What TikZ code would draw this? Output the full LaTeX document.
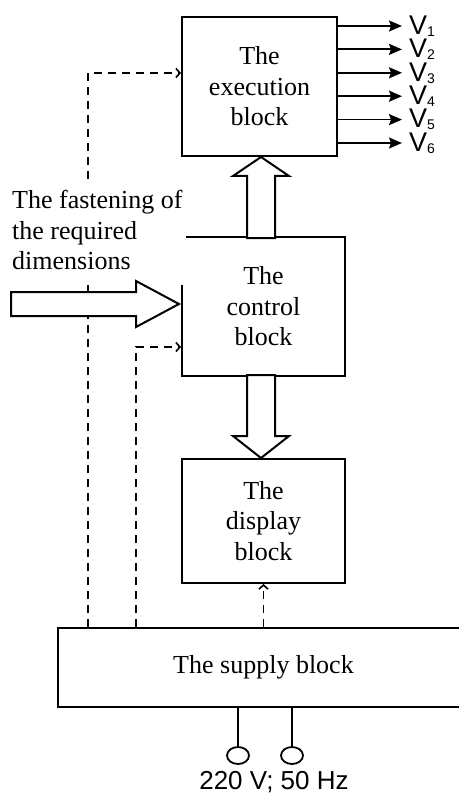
\documentclass[tikz,border=0pt]{standalone}
\usepackage{fontspec}
\setmainfont{Liberation Serif}
\setsansfont{Liberation Sans}
\usetikzlibrary{arrows.meta,shapes.geometric}

\newcommand{\outidx}[1]{\raisebox{-2pt}{\fontsize{14pt}{14pt}\selectfont #1}}

\begin{document}
\begin{tikzpicture}[
  x=1pt, y=1pt,
  block/.style={draw, line width=2pt, align=center, inner sep=0pt, font=\fontsize{26pt}{30.5pt}\selectfont},
  note/.style={fill=white, align=left, inner xsep=3pt, inner ysep=6pt, font=\fontsize{26pt}{30.5pt}\selectfont},
  hollow/.style={draw, fill=white, line width=2pt},
  feed/.style={dash pattern=on 8pt off 6pt, line width=1.6pt, -{Straight Barb[length=4pt,width=9pt]}},
  outarrow/.style={line width=1.8pt, -{Stealth[length=13pt,width=11pt,inset=2pt]}},
  vlabel/.style={font=\sffamily\fontsize{27pt}{30pt}\selectfont, inner sep=0pt, anchor=west},
  term/.style={draw, ellipse, line width=1.8pt, minimum width=22pt, minimum height=17pt, inner sep=0pt}
]
  \useasboundingbox (0,0) rectangle (458,-794);

  \node[block, minimum width=155pt, minimum height=139pt] (exec) at (259.5,-86.5) {The\\execution\\block};
  \node[block, minimum width=163pt, minimum height=139pt] (ctrl) at (263.5,-306.5) {The\\control\\block};
  \node[block, minimum width=163pt, minimum height=124pt] (disp) at (263.5,-521) {The\\display\\block};
  \node[block, minimum width=411pt, minimum height=79pt] (supply) at (263.5,-667.5) {The supply block};

  \coordinate (axis) at (261,0);
  \coordinate (d1) at (88,0);
  \coordinate (d2) at (136,0);

  % outputs
  \foreach \y [count=\i] in {26,49.4,72.8,96.2,119.6,143}{
    \node[vlabel] (v\i) at (409,-\y) {V\outidx{\i}};
    \draw[outarrow] (exec.east |- v\i.west) -- ([xshift=-7pt]v\i.west);
  }

  % power feeds
  \draw[feed] (supply.north -| d1) |- ([yshift=13.5pt]exec.west);
  \draw[feed] (supply.north -| d2) |- ([yshift=-40.5pt]ctrl.west);
  \draw[feed] (supply.north -| disp.south) -- (disp.south);

  \node[note, anchor=north west] (fasten) at (9,-184) {The fastening of\\the required\\dimensions\strut};

  % data paths
  \draw[hollow] ([shift={(-2pt,2.5pt)}]ctrl.west) -- ++(-43,23) -- ++(0,-11) -- ++(-125,0)
    -- ++(0,-24) -- ++(125,0) -- ++(0,-11) -- cycle;
  \draw[hollow] (exec.south -| axis) -- ++(28,-19) -- ++(-14,0) -- ++(0,-62)
    -- ++(-28,0) -- ++(0,62) -- ++(-14,0) -- cycle;
  \draw[hollow] (disp.north -| axis) -- ++(28,22) -- ++(-14,0) -- ++(0,61)
    -- ++(-28,0) -- ++(0,-61) -- ++(-14,0) -- cycle;

  % mains input
  \node[term] (t1) at (238,-755.5) {};
  \node[term] (t2) at (292,-755.5) {};
  \draw[line width=1.8pt] (supply.south -| t1) -- (t1.north);
  \draw[line width=1.8pt] (supply.south -| t2) -- (t2.north);
  \node[font=\sffamily\fontsize{26pt}{30pt}\selectfont, anchor=base, inner sep=0pt] (mains) at (274,-789) {220 V; 50 Hz};
\end{tikzpicture}
\end{document}
